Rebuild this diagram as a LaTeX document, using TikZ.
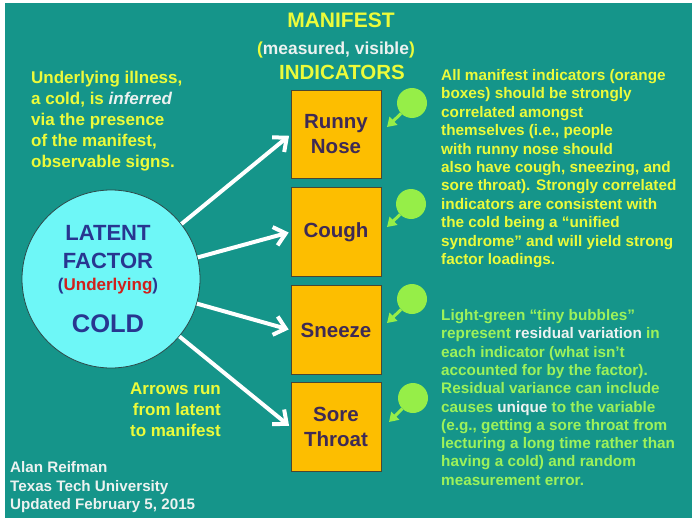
\documentclass[tikz,border=0pt]{standalone}
\usepackage{fontspec}
\setmainfont{Liberation Sans}
\usetikzlibrary{arrows.meta}
\definecolor{bg}{HTML}{15958A}
\definecolor{boxfill}{HTML}{FDBE00}
\definecolor{boxedge}{HTML}{4A4632}
\definecolor{boxtext}{HTML}{3E2A55}
\definecolor{circfill}{HTML}{6EF7F7}
\definecolor{circedge}{HTML}{2E4A4A}
\definecolor{circtext}{HTML}{283690}
\definecolor{undred}{HTML}{D0201C}
\definecolor{ylw}{HTML}{ECFB3A}
\definecolor{lgreen}{HTML}{9DF25A}
\definecolor{bub}{HTML}{96EE48}
\definecolor{offwhite}{HTML}{ECF2F0}
\newcommand\fsz[2]{\fontsize{#1}{#2}\selectfont}
\begin{document}
\begin{tikzpicture}[x=1pt,y=-1pt,
  indbox/.style={draw=boxedge, line width=0.8pt, fill=boxfill, minimum width=90pt,
    minimum height=88.5pt, inner sep=0pt, align=center, text=boxtext,
    font=\bfseries\fsz{20.5}{25}},
  latcirc/.style={circle, draw=circedge, line width=0.8pt, fill=circfill,
    minimum size=178pt, inner sep=0pt},
  circlbl/.style={anchor=base, inner sep=0pt, text=circtext},
  titlelbl/.style={anchor=base, inner sep=0pt, text=ylw},
  para/.style={anchor=north west, inner sep=0pt, align=left},
  latarrow/.style={draw=white, line width=4pt,
    -{Straight Barb[length=11pt,width=19pt]}, shorten >=2pt},
  bubble/.style={circle, fill=bub, draw=none, minimum size=30pt, inner sep=0pt},
  resarrow/.style={draw=bub, line width=3pt, -{Triangle[length=9pt,width=11pt]}}
]
\useasboundingbox (0,0) rectangle (699,522);
\fill[white] (0,0) rectangle (699,522);
\fill[bg] (5,3) rectangle (692,518);

% title
\node[titlelbl, font=\bfseries\fsz{21}{25}] (t1) at (341,27.5) {MANIFEST};
\node[titlelbl, text=offwhite, font=\bfseries\fsz{17.4}{21}] (t2) at (336,54)
  {\textcolor{ylw}{(}measured, visible\textcolor{ylw}{)}};
\node[titlelbl, font=\bfseries\fsz{20.5}{25}] (t3) at (342,79) {INDICATORS};

% boxes
\node[indbox] (b1) at (336,134.5) {Runny\\Nose};
\node[indbox] (b2) at (336,232) {Cough};
\node[indbox] (b3) at (336,330) {Sneeze};
\node[indbox] (b4) at (336,427) {Sore\\Throat};

% latent circle
\node[latcirc] (latent) at (111,279) {};
\node[circlbl, font=\bfseries\fsz{22}{26}] (l1) at (108,240) {LATENT};
\node[circlbl, font=\bfseries\fsz{22}{26}] (l2) at (108,268) {FACTOR};
\node[circlbl, font=\bfseries\fsz{17}{21}] (l3) at (108,290)
  {(\textcolor{undred}{Underlying})};
\node[circlbl, font=\bfseries\fsz{25.5}{30}] (l4) at (108,332) {COLD};

% arrows latent -> indicators
\draw[latarrow] (latent.38) -- (b1.west);
\draw[latarrow] (latent.14) -- (b2.west);
\draw[latarrow] (latent.-16) -- (b3.west);
\draw[latarrow] (latent.-40) -- (b4.west);

% residual bubbles
\node[bubble] (r1) at (412,103) {};
\node[bubble] (r2) at (411,204) {};
\node[bubble] (r3) at (412,299) {};
\node[bubble] (r4) at (413,398) {};
\coordinate (e1) at (387,127);
\coordinate (e2) at (387,227);
\coordinate (e3) at (387,323);
\coordinate (e4) at (389,422);
\draw[resarrow] (r1) -- (e1);
\draw[resarrow] (r2) -- (e2);
\draw[resarrow] (r3) -- (e3);
\draw[resarrow] (r4) -- (e4);

% left text
\node[para, text=ylw, font=\bfseries\fsz{17}{21}] (lefttxt) at (31,68.3)
  {\strut Underlying illness,\\
   a cold, is \textcolor{offwhite}{\itshape inferred}\\
   via the presence\\
   of the manifest,\\
   observable signs.};

% arrows note
\node[anchor=north east, inner sep=0pt, align=right, text=ylw,
  font=\bfseries\fsz{17}{21}] (arrtxt) at (221,379.3)
  {\strut Arrows run\\ from latent\\ to manifest};

% author
\node[para, text=offwhite, font=\bfseries\fsz{15.2}{18.5}] (author) at (10,459.4)
  {\strut Alan Reifman\\ Texas Tech University\\ Updated February 5, 2015};

% right text 1
\node[para, text=ylw, font=\bfseries\fsz{15.3}{18.4}] (right1) at (441,67.5)
  {\strut All manifest indicators (orange\\
   boxes) should be strongly\\
   correlated amongst\\
   themselves (i.e., people\\
   with runny nose should\\
   also have cough, sneezing, and\\
   sore throat). Strongly correlated\\
   indicators are consistent with\\
   the cold being a “unified\\
   syndrome” and will yield strong\\
   factor loadings.};

% right text 2
\node[para, text=lgreen, font=\bfseries\fsz{15.3}{18.3}] (right2) at (441,307.5)
  {\strut Light-green “tiny bubbles”\\
   represent \textcolor{offwhite}{residual variation} in\\
   each indicator (what isn’t\\
   accounted for by the factor).\\
   Residual variance can include\\
   causes \textcolor{offwhite}{unique} to the variable\\
   (e.g., getting a sore throat from\\
   lecturing a long time rather than\\
   having a cold) and random\\
   measurement error.};
\end{tikzpicture}
\end{document}
